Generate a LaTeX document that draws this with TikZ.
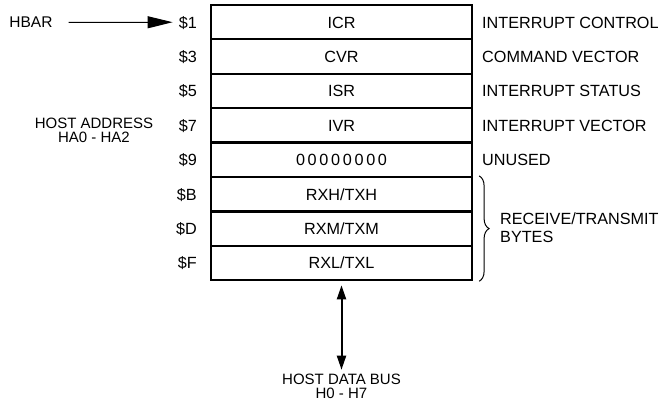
\documentclass[tikz,border=0pt]{standalone}
\usepackage{fontspec}
\setmainfont{Liberation Sans}
\usetikzlibrary{arrows.meta,decorations.pathreplacing}
\begin{document}
\begin{tikzpicture}[x=1pt,y=-1pt,
  reg/.style={draw,line width=2.2pt,minimum width=261pt,minimum height=34.4pt,inner sep=0pt,
    font=\fontsize{16.2}{19}\selectfont,text height=11.7pt,text depth=0pt},
  addr/.style={anchor=east,inner sep=0pt,font=\fontsize{16.2}{19}\selectfont,text height=11.7pt,text depth=0pt},
  desc/.style={anchor=west,inner sep=0pt,font=\fontsize{16.2}{19}\selectfont,text height=11.7pt,text depth=0pt},
  note/.style={inner sep=0pt,align=center,font=\fontsize{15}{14.5}\selectfont},
  arr/.style={line width=1pt,-{Triangle[length=25pt,width=12pt]}},
  busarr/.style={line width=2pt,{Triangle[length=14pt,width=9pt]}-{Triangle[length=14pt,width=9pt]}}]
\useasboundingbox (0,0) rectangle (664,401);
% registers
\node[reg] (r1) at (341.5,22.2) {ICR};
\node[reg] (r2) at (341.5,56.6) {CVR};
\node[reg] (r3) at (341.5,91.0) {ISR};
\node[reg] (r4) at (341.5,125.4) {IVR};
\node[reg] (r5) at (341.5,159.8) {0\,0\,0\,0\,0\,0\,0\,0};
\node[reg] (r6) at (341.5,194.2) {RXH/TXH};
\node[reg] (r7) at (341.5,228.6) {RXM/TXM};
\node[reg] (r8) at (341.5,263.0) {RXL/TXL};
% addresses
\node[addr] (a1) at (197,22.2) {\$1};
\node[addr] (a2) at (197,56.6) {\$3};
\node[addr] (a3) at (197,91.0) {\$5};
\node[addr] (a4) at (197,125.4) {\$7};
\node[addr] (a5) at (197,159.8) {\$9};
\node[addr] (a6) at (197,194.2) {\$B};
\node[addr] (a7) at (197,228.6) {\$D};
\node[addr] (a8) at (197,263.0) {\$F};
% descriptions
\node[desc] (d1) at (482,22.2) {INTERRUPT CONTROL};
\node[desc] (d2) at (482,56.6) {COMMAND VECTOR};
\node[desc] (d3) at (482,91.0) {INTERRUPT STATUS};
\node[desc] (d4) at (482,125.4) {INTERRUPT VECTOR};
\node[desc] (d5) at (482,159.8) {UNUSED};
\draw[decorate,decoration={brace,amplitude=10pt},line width=1pt]
  ([xshift=6pt]r6.north east) -- ([xshift=6pt]r8.south east);
\node[anchor=west,inner sep=0pt,align=left,font=\fontsize{16.2}{18}\selectfont] (rt) at (500,227.5)
  {RECEIVE/TRANSMIT\\BYTES};
% left labels
\node[inner sep=0pt,font=\fontsize{15.5}{18}\selectfont] (hbar) at (31,22.5) {HBAR};
\draw[arr] ([xshift=16pt]hbar.east) -- ([xshift=-6pt]a1.west);
\node[note] (ha) at (94,130.5) {HOST ADDRESS\\HA0 - HA2};
% data bus
\node[note] (bus) at (341.5,386.5) {HOST DATA BUS\\H0 - H7};
\draw[busarr] ([yshift=-4pt]r8.south) -- ([yshift=4pt]bus.north);
\end{tikzpicture}
\end{document}
